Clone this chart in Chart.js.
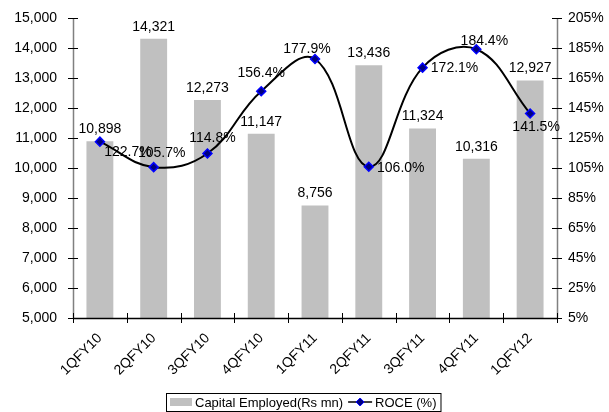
<!DOCTYPE html>
<html><head><meta charset="utf-8">
<script src="https://cdn.jsdelivr.net/npm/chart.js@4.4.0/dist/chart.umd.min.js"></script>
<style>html,body{margin:0;padding:0;background:#fff;}canvas{display:block;}</style>
</head><body>
<canvas id="c" width="609" height="412"></canvas>
<script>
const categories = ['1QFY10','2QFY10','3QFY10','4QFY10','1QFY11','2QFY11','3QFY11','4QFY11','1QFY12'];
const capitalEmployed = [10898,14321,12273,11147,8756,13436,11324,10316,12927];
const roce = [122.7,105.7,114.8,156.4,177.9,106.0,172.1,184.4,141.5];
const leftAxisRange = [5000, 15000, 1000];
const rightAxisRange = [5, 205, 20];
const seriesNames = ['Capital Employed(Rs mn)', 'ROCE (%)'];

const FONT = '"Liberation Sans", Arial, sans-serif';
const fmt = v => Number(v).toLocaleString('en-US');
const roceLabelOffsets = [[28,10],[8,-14],[5,-15],[0,-18],[-8,-10],[32,1],[32,0],[8,-8],[6,14]];

const overlay = {
  id: 'overlay',
  afterDraw(chart) {
    const ctx = chart.ctx, a = chart.chartArea;
    const sy = chart.scales.y, sy1 = chart.scales.y1;
    ctx.save();
    ctx.lineWidth = 1.5;
    ctx.strokeStyle = '#808080';
    ctx.beginPath();
    ctx.moveTo(Math.round(a.left)+0.5, a.top); ctx.lineTo(Math.round(a.left)+0.5, a.bottom);
    ctx.moveTo(Math.round(a.right)+0.5, a.top); ctx.lineTo(Math.round(a.right)+0.5, a.bottom);
    ctx.stroke();
    ctx.lineWidth = 1;
    ctx.strokeStyle = '#000';
    ctx.beginPath();
    sy.ticks.forEach(t => { const y = Math.round(sy.getPixelForValue(t.value))+0.5; ctx.moveTo(a.left-5, y); ctx.lineTo(a.left+5, y); });
    sy1.ticks.forEach(t => { const y = Math.round(sy1.getPixelForValue(t.value))+0.5; ctx.moveTo(a.right-5, y); ctx.lineTo(a.right+5, y); });
    const n = categories.length, w = (a.right - a.left) / n;
    for (let i = 0; i <= n; i++) { const x = Math.round(a.left + i*w)+0.5; ctx.moveTo(x, a.bottom-5); ctx.lineTo(x, a.bottom+5); }
    ctx.stroke();
    ctx.lineWidth = 1.5;
    ctx.beginPath();
    ctx.moveTo(a.left, Math.round(a.bottom)+0.5); ctx.lineTo(a.right, Math.round(a.bottom)+0.5);
    ctx.stroke();

    ctx.fillStyle = '#000';
    ctx.font = '14px ' + FONT;
    ctx.textAlign = 'center';
    ctx.textBaseline = 'bottom';
    chart.getDatasetMeta(1).data.forEach((el, i) => {
      ctx.fillText(fmt(capitalEmployed[i]), el.x, el.y - 5);
    });
    ctx.textBaseline = 'middle';
    chart.getDatasetMeta(0).data.forEach((el, i) => {
      const o = roceLabelOffsets[i];
      ctx.fillText(roce[i].toFixed(1) + '%', el.x + o[0], el.y + o[1]);
    });

    ctx.font = '13px ' + FONT;
    const left = 166, top = 393, h = 18;
    const t1 = ctx.measureText(seriesNames[0]).width;
    const t2 = ctx.measureText(seriesNames[1]).width;
    let x = left + 4;
    const cy = top + h/2;
    ctx.fillStyle = '#C0C0C0';
    ctx.fillRect(x, cy - 4, 22, 8);
    x += 25;
    ctx.fillStyle = '#000';
    ctx.textAlign = 'left';
    ctx.fillText(seriesNames[0], x, cy + 1);
    x += t1 + 5;
    ctx.strokeStyle = '#000';
    ctx.lineWidth = 1.5;
    ctx.beginPath(); ctx.moveTo(x, cy); ctx.lineTo(x + 24, cy); ctx.stroke();
    ctx.fillStyle = '#000080'; ctx.strokeStyle = '#0000FF'; ctx.lineWidth = 1;
    ctx.beginPath(); ctx.moveTo(x+12, cy-4); ctx.lineTo(x+16, cy); ctx.lineTo(x+12, cy+4); ctx.lineTo(x+8, cy); ctx.closePath(); ctx.fill(); ctx.stroke();
    x += 27;
    ctx.fillStyle = '#000';
    ctx.fillText(seriesNames[1], x, cy + 1);
    x += t2 + 4;
    ctx.strokeStyle = '#000'; ctx.lineWidth = 1;
    ctx.strokeRect(left + 0.5, top + 0.5, x - left, h);
    ctx.restore();
  }
};

new Chart(document.getElementById('c'), {
  type: 'bar',
  data: {
    labels: categories,
    datasets: [
      {
        type: 'line', label: seriesNames[1], data: roce, yAxisID: 'y1', order: 0,
        borderColor: '#000', borderWidth: 2, tension: 0.4, fill: false,
        pointStyle: 'rectRot', pointRadius: 4.5, pointBackgroundColor: '#000080',
        pointBorderColor: '#0000FF', pointBorderWidth: 1.5
      },
      {
        type: 'bar', label: seriesNames[0], data: capitalEmployed, yAxisID: 'y', order: 1,
        backgroundColor: '#C0C0C0', borderWidth: 0,
        categoryPercentage: 1, barPercentage: 0.5
      }
    ]
  },
  options: {
    responsive: false, animation: false, devicePixelRatio: 1,
    layout: { padding: { top: 14, left: 0, right: 0, bottom: 0 } },
    plugins: { legend: { display: false }, tooltip: { enabled: false } },
    scales: {
      x: {
        afterFit(s) { s.height = 94; },
        grid: { display: true, drawOnChartArea: false, tickLength: 6, color: 'rgba(0,0,0,0)' },
        border: { display: false },
        ticks: { font: { family: FONT, size: 14 }, color: '#000', minRotation: 45, maxRotation: 45, autoSkip: false, padding: 6 }
      },
      y: {
        position: 'left',
        afterFit(s) { s.width = 73; },
        min: leftAxisRange[0], max: leftAxisRange[1],
        grid: { display: true, drawOnChartArea: false, tickLength: 6, color: 'rgba(0,0,0,0)' },
        border: { display: false },
        ticks: { stepSize: leftAxisRange[2], callback: v => fmt(v), font: { family: FONT, size: 14 }, color: '#000', padding: 10 }
      },
      y1: {
        position: 'right',
        afterFit(s) { s.width = 52; },
        min: rightAxisRange[0], max: rightAxisRange[1],
        grid: { display: true, drawOnChartArea: false, tickLength: 6, color: 'rgba(0,0,0,0)' },
        border: { display: false },
        ticks: { stepSize: rightAxisRange[2], callback: v => v + '%', font: { family: FONT, size: 14 }, color: '#000', padding: 5 }
      }
    }
  },
  plugins: [overlay]
});
</script>
</body></html>
